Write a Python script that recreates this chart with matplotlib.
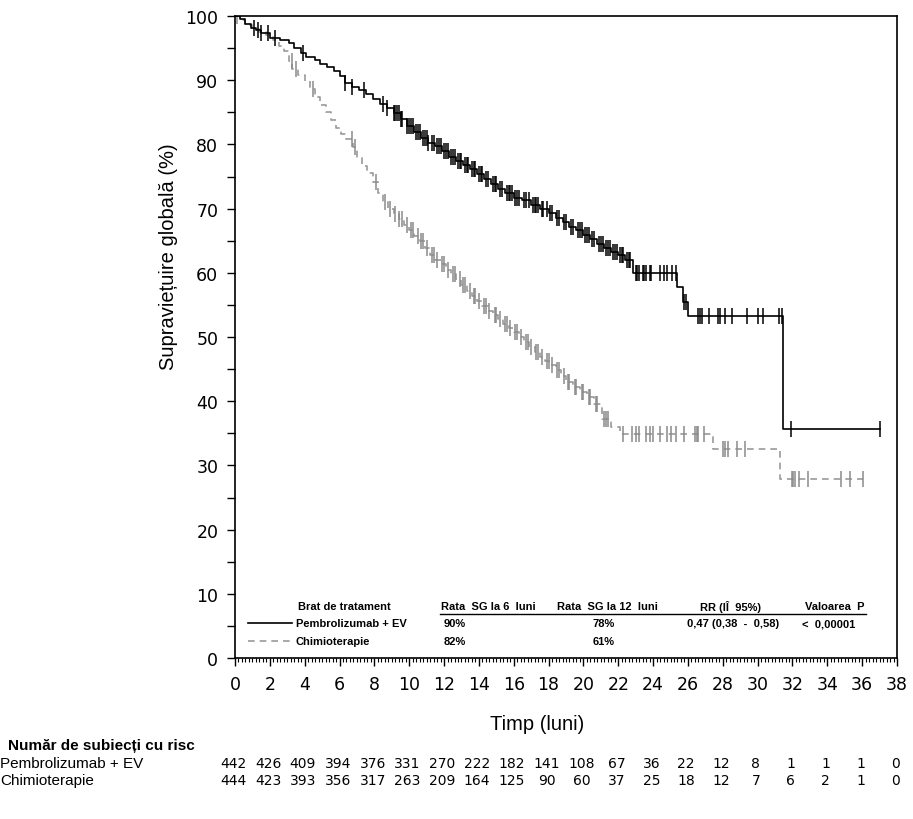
import numpy as np
import matplotlib
matplotlib.use("Agg")
import matplotlib.pyplot as plt
from matplotlib.ticker import MultipleLocator
from matplotlib.lines import Line2D
import matplotlib.transforms as mtransforms

# ---------------- data ----------------
pem_t = [0, 0.3, 0.6, 0.9, 1.2, 1.5, 2.0, 2.6, 3.1, 3.4, 3.8, 4.1, 4.6, 4.9, 5.3, 5.7, 6.0, 6.3, 6.7,
         7.1, 7.5, 7.9, 8.3, 8.7, 9.1, 9.5, 9.9, 10.3, 10.7, 11.1, 11.5, 11.9, 12.3, 12.7, 13.1, 13.5,
         13.9, 14.3, 14.7, 15.1, 15.5, 16.0, 16.5, 17.0, 17.5, 18.0, 18.4, 18.8, 19.2, 19.6, 20.0,
         20.4, 20.8, 21.2, 21.6, 22.0, 22.4, 22.85, 25.4, 25.7, 26.0, 31.46, 37.0]
pem_s = [100, 99.5, 98.8, 98.2, 97.8, 97.3, 96.6, 96.2, 95.8, 95.0, 94.2, 93.6, 93.2, 92.5, 92.0, 91.4,
         90.6, 89.6, 89.0, 88.4, 87.9, 87.0, 86.3, 85.6, 84.9, 84.0, 82.9, 81.9, 81.0, 80.2, 79.7, 79.0,
         78.1, 77.4, 76.8, 76.2, 75.4, 74.6, 73.9, 73.0, 72.4, 71.7, 71.3, 70.6, 70.0, 69.3, 68.5, 67.9,
         67.2, 66.7, 65.9, 65.2, 64.5, 63.8, 63.2, 62.7, 62.0, 60.0, 57.8, 55.5, 53.3, 35.6, 35.6]

chemo_t = [0, 0.3, 0.6, 1.0, 1.4, 1.8, 2.2, 2.5, 2.8, 3.1, 3.3, 3.6, 4.0, 4.3, 4.6, 4.9, 5.2, 5.5, 5.8,
           6.1, 6.4, 6.8, 7.0, 7.3, 7.6, 7.9, 8.2, 8.5, 8.8, 9.1, 9.4, 9.7, 10.0, 10.3, 10.6, 10.9,
           11.2, 11.5, 11.8, 12.1, 12.4, 12.7, 13.0, 13.3, 13.6, 13.9, 14.2, 14.5, 14.8, 15.1, 15.4,
           15.7, 16.0, 16.3, 16.6, 16.9, 17.2, 17.5, 17.8, 18.1, 18.4, 18.7, 19.0, 19.4, 19.8, 20.2,
           20.6, 21.05, 21.6, 22.1, 27.45, 31.3, 36.05]
chemo_s = [100, 99.3, 98.6, 98.0, 97.5, 97.0, 96.3, 95.4, 94.6, 93.0, 91.7, 90.8, 89.8, 88.6, 87.4, 86.2,
           85.0, 83.8, 82.5, 81.6, 80.8, 79.6, 78.0, 76.7, 75.5, 74.1, 72.5, 71.0, 69.9, 69.2, 68.4, 67.5,
           66.6, 65.8, 64.9, 63.8, 62.7, 62.0, 61.3, 60.5, 59.8, 59.0, 58.1, 57.2, 56.4, 55.6, 54.8, 54.1,
           53.5, 52.8, 52.0, 51.4, 50.8, 50.0, 49.2, 48.5, 47.7, 46.9, 46.3, 45.6, 44.8, 43.9, 43.0, 42.2,
           41.4, 40.6, 39.6, 37.2, 36.0, 34.9, 32.6, 27.9, 27.9]

pem_cens = [1.1, 1.3, 1.5, 1.9, 2.3, 3.9, 6.3, 6.7, 7.4, 8.5, 8.7, 9.1, 9.2, 9.3, 9.4, 9.5, 9.6, 9.9, 10.0,
            10.1, 10.2, 10.4, 10.5, 10.6, 10.8, 10.9, 11.0, 11.1, 11.3, 11.4, 11.6, 11.7, 11.8, 12.0, 12.1,
            12.2, 12.4, 12.5, 12.6, 12.8, 12.9, 13.0, 13.2, 13.3, 13.4, 13.6, 13.7, 13.8, 14.0, 14.1, 14.2,
            14.4, 14.5, 14.8, 14.9, 15.0, 15.2, 15.3, 15.6, 15.7, 15.8, 15.9, 16.1, 16.2, 16.3, 16.6, 16.7,
            16.9, 17.1, 17.2, 17.3, 17.4, 17.6, 17.7, 17.9, 18.1, 18.2, 18.5, 18.6, 18.9, 19.0, 19.3, 19.4,
            19.7, 19.8, 19.9, 20.1, 20.2, 20.3, 20.5, 20.6, 20.9, 21.0, 21.1, 21.3, 21.4, 21.5, 21.7, 21.8,
            21.9, 22.1, 22.2, 22.3, 22.5, 22.6, 22.7, 23.0, 23.1, 23.2, 23.4, 23.5, 23.6, 23.8, 23.9, 24.4,
            24.6, 24.8, 25.1, 25.3, 25.8, 25.9, 26.6, 26.7, 26.8, 27.2, 27.7, 27.85, 28.1, 28.5, 29.4, 30.0,
            30.3, 31.2, 31.4, 31.9, 37.0]
chemo_cens = [0.1, 3.25, 3.5, 4.5, 6.7, 6.9, 8.1, 8.6, 8.9, 9.2, 9.4, 9.6, 9.9, 10.1, 10.2, 10.5, 10.7,
              10.8, 11.0, 11.3, 11.4, 11.6, 11.9, 12.0, 12.2, 12.5, 12.6, 12.9, 13.1, 13.2, 13.5, 13.7,
              13.8, 14.0, 14.3, 14.4, 14.6, 14.9, 15.0, 15.2, 15.5, 15.6, 15.8, 16.1, 16.2, 16.4, 16.7,
              16.8, 17.0, 17.3, 17.4, 17.6, 17.9, 18.0, 18.2, 18.5, 18.6, 18.9, 19.1, 19.2, 19.5, 19.6,
              19.9, 20.0, 20.3, 20.4, 20.7, 20.8, 21.2, 21.3, 21.4, 22.3, 22.8, 23.0, 23.2, 23.6, 23.8,
              24.0, 24.4, 24.8, 25.0, 25.3, 25.8, 26.4, 26.5, 26.6, 26.9, 28.0, 28.1, 28.3, 28.8, 29.3,
              31.95, 32.05, 32.15, 32.4, 32.9, 34.8, 35.3, 36.05]

risk_times = [0, 2, 4, 6, 8, 10, 12, 14, 16, 18, 20, 22, 24, 26, 28, 30, 32, 34, 36, 38]
risk_pem = [442, 426, 409, 394, 376, 331, 270, 222, 182, 141, 108, 67, 36, 22, 12, 8, 1, 1, 1, 0]
risk_chemo = [444, 423, 393, 356, 317, 263, 209, 164, 125, 90, 60, 37, 25, 18, 12, 7, 6, 2, 1, 0]

arm_labels = ["Pembrolizumab + EV", "Chimioterapie"]
os6 = ["90%", "82%"]
os12 = ["78%", "61%"]
hr_text = "0,47 (0,38  -  0,58)"
p_text = "<  0,00001"

BLACK = "#000000"
GRAY = "#999999"
GRAY_C = "#8a8a8a"

# ---------------- figure ----------------
fig = plt.figure(figsize=(9.13, 8.20), dpi=100)
ax = fig.add_axes([235/913, 1-659/820, (897-235)/913, (659-17)/820])

def surv_at(ts, ss, t):
    i = np.searchsorted(ts, t, side="right") - 1
    return np.asarray(ss)[i]

ax.plot(pem_t, pem_s, drawstyle="steps-post", color=BLACK, lw=1.2, zorder=3)
ax.plot(chemo_t, chemo_s, drawstyle="steps-post", color=GRAY, lw=1.2, ls=(0, (4, 3)), zorder=2)

ax.plot(pem_cens, surv_at(pem_t, pem_s, pem_cens), ls="none", marker="|", ms=11, mew=1.1,
        color=BLACK, zorder=3)
ax.plot(chemo_cens, surv_at(chemo_t, chemo_s, chemo_cens), ls="none", marker="|", ms=11, mew=1.1,
        color=GRAY_C, zorder=2)

ax.set_xlim(0, 38)
ax.set_ylim(0, 100)
ax.xaxis.set_major_locator(MultipleLocator(2))
ax.xaxis.set_minor_locator(MultipleLocator(0.2))
ax.yaxis.set_major_locator(MultipleLocator(10))
ax.yaxis.set_minor_locator(MultipleLocator(5))
ax.tick_params(which="major", direction="out", length=6, width=1, labelsize=12.5, pad=6)
ax.tick_params(which="minor", direction="out", length=3, width=0.8)
ax.tick_params(axis="y", which="minor", length=6, width=1)
for lab in ax.get_xticklabels() + ax.get_yticklabels():
    lab.set_family(["DejaVu Sans Condensed", "DejaVu Sans"])
for s in ax.spines.values():
    s.set_linewidth(1.2)

ax.set_ylabel("Supraviețuire globală (%)", fontsize=14.5, family=["Liberation Sans", "DejaVu Sans"])
ax.yaxis.set_label_coords(-0.086, 0.626)
ax.set_xlabel("Timp (luni)", fontsize=14.5, family=["Liberation Sans", "DejaVu Sans"])
ax.xaxis.set_label_coords(0.456, -0.088)

# ---------------- inset legend table ----------------
tf = dict(fontsize=8, fontweight="bold", family=["Liberation Sans", "DejaVu Sans"],
          transform=ax.transAxes, va="center")
yh, y1, y2 = 0.081, 0.0545, 0.0265
ax.text(0.095, yh, "Brat de tratament", ha="left", **tf)
ax.text(0.382, yh, "Rata  SG la 6  luni", ha="center", **tf)
ax.text(0.562, yh, "Rata  SG la 12  luni", ha="center", **tf)
ax.text(0.748, yh, "RR (IÎ  95%)", ha="center", **tf)
ax.text(0.906, yh, "Valoarea  P", ha="center", **tf)
ax.add_line(Line2D([0.3097, 0.953], [0.0685, 0.0685], color="black", lw=1.0, transform=ax.transAxes))

ax.add_line(Line2D([0.0196, 0.0861], [y1, y1], color=BLACK, lw=1.2, transform=ax.transAxes))
ax.add_line(Line2D([0.0196, 0.0861], [y2, y2], color=GRAY, lw=1.2, ls=(0, (4, 3)), transform=ax.transAxes))
for yy, lab, a, b in zip([y1, y2], arm_labels, os6, os12):
    ax.text(0.0921, yy, lab, ha="left", **tf)
    ax.text(0.332, yy, a, ha="center", **tf)
    ax.text(0.557, yy, b, ha="center", **tf)
ax.text(0.752, y1, hr_text, ha="center", **tf)
ax.text(0.897, y1, p_text, ha="center", **tf)

# ---------------- number at risk ----------------
fig.text(8/913, 1-746/820, "Număr de subiecți cu risc", fontsize=11, fontweight="bold",
         family=["Liberation Sans", "DejaVu Sans"], va="center", ha="left")
fig.text(0/913, 1-764/820, arm_labels[0], fontsize=11, family=["Liberation Sans", "DejaVu Sans"],
         va="center", ha="left")
fig.text(0/913, 1-781/820, arm_labels[1], fontsize=11, family=["Liberation Sans", "DejaVu Sans"],
         va="center", ha="left")
trans = mtransforms.blended_transform_factory(ax.transData, fig.transFigure)
for xx, a, b in zip(risk_times, risk_pem, risk_chemo):
    fig.text(xx - 0.1, 1-764/820, str(a), transform=trans, ha="center", va="center", fontsize=10,
             family=["DejaVu Sans"])
    fig.text(xx - 0.1, 1-781/820, str(b), transform=trans, ha="center", va="center", fontsize=10,
             family=["DejaVu Sans"])

fig.savefig("out.png", dpi=100)
